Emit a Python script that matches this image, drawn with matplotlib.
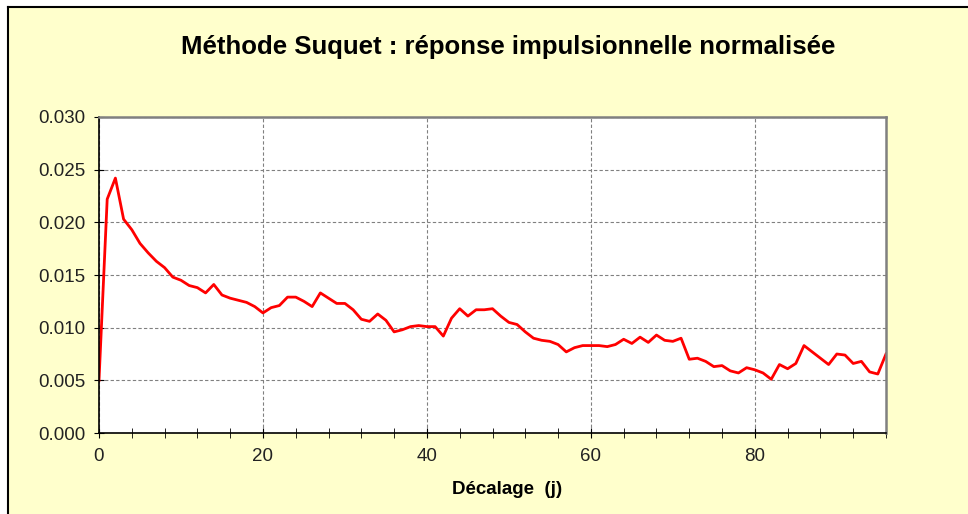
import matplotlib
matplotlib.use("Agg")
import matplotlib.pyplot as plt
from matplotlib.ticker import MultipleLocator, FormatStrFormatter
from matplotlib.patches import Rectangle
from matplotlib.lines import Line2D

plt.rcParams['font.family'] = ['Liberation Sans', 'DejaVu Sans']

lags = list(range(0, 97))
values = [
    0.0050, 0.0222, 0.0242, 0.0203, 0.0193, 0.0180, 0.0171, 0.0163, 0.0157, 0.0148,
    0.0145, 0.0140, 0.0138, 0.0133, 0.0141, 0.0131, 0.0128, 0.0126, 0.0124, 0.0120,
    0.0114, 0.0119, 0.0121, 0.0129, 0.0129, 0.0125, 0.0120, 0.0133, 0.0128, 0.0123,
    0.0123, 0.0117, 0.0108, 0.0106, 0.0113, 0.0107, 0.0096, 0.0098, 0.0101, 0.0102,
    0.0101, 0.0101, 0.0092, 0.0109, 0.0118, 0.0111, 0.0117, 0.0117, 0.0118, 0.0111,
    0.0105, 0.0103, 0.0096, 0.0090, 0.0088, 0.0087, 0.0084, 0.0077, 0.0081, 0.0083,
    0.0083, 0.0083, 0.0082, 0.0084, 0.0089, 0.0085, 0.0091, 0.0086, 0.0093, 0.0088,
    0.0087, 0.0090, 0.0070, 0.0071, 0.0068, 0.0063, 0.0064, 0.0059, 0.0057, 0.0062,
    0.0060, 0.0057, 0.0051, 0.0065, 0.0061, 0.0066, 0.0083, 0.0077, 0.0071, 0.0065,
    0.0075, 0.0074, 0.0066, 0.0068, 0.0058, 0.0056, 0.0075,
]

title = "Méthode Suquet : réponse impulsionnelle normalisée"
xlabel = "Décalage  (j)"

W, H = 968, 514
fig = plt.figure(figsize=(W/100, H/100), dpi=100, facecolor="white")
fig.patches.append(Rectangle((8/W, 0), 1 - 8/W, 1 - 7/H, transform=fig.transFigure,
                             facecolor="#FFFFCC", edgecolor="none", zorder=-10))
fig.lines.append(Line2D([8/W, 1], [1 - 7/H, 1 - 7/H], transform=fig.transFigure,
                        color="black", linewidth=1.5, zorder=-5))
fig.lines.append(Line2D([8/W, 8/W], [0, 1 - 7/H], transform=fig.transFigure,
                        color="black", linewidth=1.5, zorder=-5))

ax = fig.add_axes([99/W, 1-433/H, (886-99)/W, (433-117)/H])
ax.set_facecolor("white")
ax.plot(lags, values, color="#FF0000", linewidth=2)

ax.set_xlim(0, 96)
ax.set_ylim(0, 0.030)
ax.xaxis.set_major_locator(MultipleLocator(20))
ax.xaxis.set_minor_locator(MultipleLocator(4))
ax.yaxis.set_major_locator(MultipleLocator(0.005))
ax.yaxis.set_major_formatter(FormatStrFormatter("%.3f"))
ax.grid(True, which="major", color="#808080", linestyle=(0, (3, 2)), linewidth=0.8)
ax.tick_params(axis="both", which="major", direction="inout", length=7, labelsize=13.5,
               color="black", labelcolor="#222222")
ax.tick_params(axis="x", which="minor", direction="inout", length=7, color="black")
ax.tick_params(axis="x", which="major", pad=7)
ax.tick_params(axis="y", which="major", pad=6)
for s in ["top", "right"]:
    ax.spines[s].set_color("#808080")
    ax.spines[s].set_linewidth(1.8)
for s in ["left", "bottom"]:
    ax.spines[s].set_color("black")
    ax.spines[s].set_linewidth(1.2)

fig.text(507/W, 1 - 490/H, xlabel, ha="center", va="center", fontsize=13.5, fontweight="bold")
fig.text(508/W, 1 - 47/H, title, ha="center", va="center", fontsize=18.5, fontweight="bold")

fig.savefig("out.png", dpi=100, facecolor=fig.get_facecolor())
